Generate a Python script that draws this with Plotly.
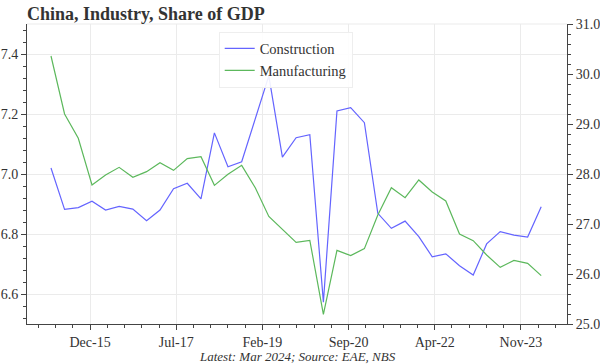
import pandas as pd
import plotly.graph_objects as go

# Quarterly data, Mar 2015 .. Mar 2024
quarters = pd.date_range("2015-03-31", periods=37, freq="QE")

construction = [7.02, 6.882, 6.888, 6.909, 6.88, 6.892, 6.883, 6.844, 6.88, 6.951,
                6.969, 6.917, 7.137, 7.024, 7.041, 7.183, 7.327, 7.056, 7.121, 7.131,
                6.573, 7.21, 7.221, 7.171, 6.869, 6.819, 6.843, 6.791, 6.724, 6.734,
                6.694, 6.663, 6.767, 6.808, 6.796, 6.79, 6.891]

manufacturing = [30.36, 29.2, 28.714, 27.78, 27.98, 28.133, 27.933, 28.047, 28.227, 28.073,
                 28.307, 28.347, 27.773, 27.993, 28.173, 27.72, 27.15, 26.893, 26.633, 26.673,
                 25.193, 26.473, 26.367, 26.507, 27.18, 27.727, 27.527, 27.88, 27.64, 27.46,
                 26.8, 26.667, 26.38, 26.133, 26.273, 26.213, 25.967]

tick_labels = ["Dec-15", "Jul-17", "Feb-19", "Sep-20", "Apr-22", "Nov-23"]

first_tick = pd.Timestamp("2015-12-18")
tick_step = pd.Timedelta(days=578)
tick_vals = [first_tick + k * tick_step for k in range(len(tick_labels))]
minor_step_ms = tick_step.total_seconds() * 1000 / 5

FONT = "Liberation Serif"
AX = "#444444"
GRID = "#ebebeb"

W, H = 600, 364

fig = go.Figure()
fig.add_trace(go.Scatter(x=quarters, y=construction, name="Construction", mode="lines",
                         line=dict(color="#6464ff", width=1.2), yaxis="y"))
fig.add_trace(go.Scatter(x=quarters, y=manufacturing, name="Manufacturing", mode="lines",
                         line=dict(color="#5cb85c", width=1.2), yaxis="y2"))

fig.update_layout(
    width=W, height=H,
    margin=dict(l=27, r=33, t=24, b=40, autoexpand=False),
    paper_bgcolor="white", plot_bgcolor="white",
    font=dict(family=FONT, size=14, color="#333333"),
    title=dict(text="<b>China, Industry, Share of GDP</b>", x=0, xref="paper", xanchor="left",
               y=1 - 14 / H, yref="container", yanchor="middle",
               font=dict(family=FONT, size=18, color="#333333")),
    showlegend=True,
    legend=dict(x=0.355, y=0.975, xanchor="left", yanchor="top",
                bgcolor="rgba(255,255,255,0.9)", bordercolor="#eeeeee", borderwidth=1,
                font=dict(family=FONT, size=14.5, color="#333333"), itemwidth=30,
                tracegroupgap=0),
    xaxis=dict(type="date", range=["2014-10-21", "2024-09-20"], automargin=False,
               tickmode="array", tickvals=tick_vals, ticktext=tick_labels,
               ticks="outside", ticklen=5, tickcolor=AX, showline=True, linecolor=AX, linewidth=1,
               showgrid=True, gridcolor=GRID, gridwidth=1, zeroline=False,
               minor=dict(tickmode="linear", tick0=first_tick, dtick=minor_step_ms,
                          ticks="outside", ticklen=3, tickcolor=AX, showgrid=False)),
    yaxis=dict(range=[6.5, 7.5], tick0=6.6, dtick=0.2, tickformat=".1f", automargin=False,
               ticks="outside", ticklen=5, tickcolor=AX, showline=True, linecolor=AX, linewidth=1,
               showgrid=True, gridcolor=GRID, zeroline=False,
               minor=dict(dtick=0.04, tick0=6.6, ticks="outside", ticklen=3, tickcolor=AX, showgrid=False)),
    yaxis2=dict(range=[25, 31], dtick=1, tick0=25, tickformat=".1f", overlaying="y", side="right",
                automargin=False,
                ticks="outside", ticklen=5, tickcolor=AX, showline=True, linecolor=AX, linewidth=1,
                showgrid=False, zeroline=False,
                minor=dict(dtick=0.2, tick0=25, ticks="outside", ticklen=3, tickcolor=AX, showgrid=False)),
)

# light top border of plot area
fig.add_shape(type="line", xref="paper", yref="paper", x0=0, x1=1, y0=1, y1=1,
              line=dict(color=GRID, width=1), layer="below")

fig.add_annotation(text="<i>Latest: Mar 2024; Source: EAE, NBS</i>", xref="paper", yref="paper",
                   x=0.5, y=-0.107, xanchor="center", yanchor="middle", showarrow=False,
                   font=dict(family=FONT, size=13, color="#333333"))

fig.write_html("out.html", config={"displayModeBar": False},
               post_script="document.body.style.margin='0';document.body.style.overflow='hidden';")
